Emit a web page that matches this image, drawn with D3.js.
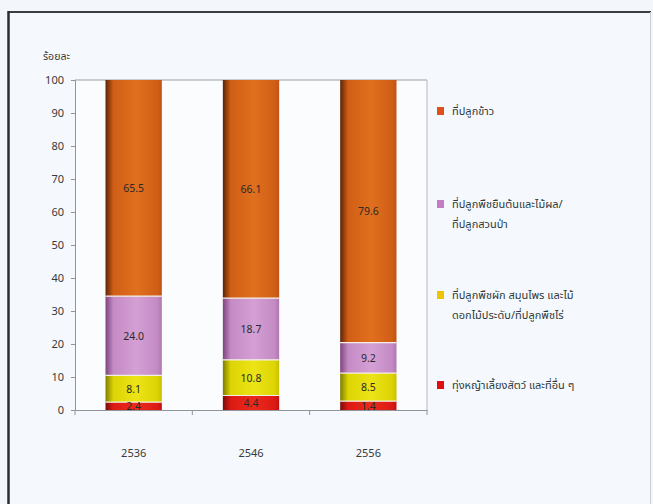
<!DOCTYPE html>
<html><head><meta charset="utf-8">
<script src="https://cdn.jsdelivr.net/npm/d3@7"></script>
<style>
html,body{margin:0;padding:0;background:#f3f6fa;}
svg{display:block;}
text{font-family:"Noto Sans Thai","Noto Sans","DejaVu Sans",sans-serif;}
</style></head>
<body>
<svg id="c" width="653" height="504"></svg>
<script>
// ---- data ----
const years = ["2536", "2546", "2556"];
const seriesNames = [
  "ทุ่งหญ้าเลี้ยงสัตว์ และที่อื่น ๆ",
  "ที่ปลูกพืชผัก สมุนไพร และไม้ดอกไม้ประดับ/ที่ปลูกพืชไร่",
  "ที่ปลูกพืชยืนต้นและไม้ผล/ที่ปลูกสวนป่า",
  "ที่ปลูกข้าว"
];
const pasture = [2.4, 4.4, 2.7];
const vegetables = [8.1, 10.8, 8.5];
const perennial = [24.0, 18.7, 9.2];
const rice = [65.5, 66.1, 79.6];
const pastureLabels = ["2.4", "4.4", "1.4"];
const vegetablesLabels = ["8.1", "10.8", "8.5"];
const perennialLabels = ["24.0", "18.7", "9.2"];
const riceLabels = ["65.5", "66.1", "79.6"];
const yTicks = [0, 10, 20, 30, 40, 50, 60, 70, 80, 90, 100];
const yTitle = "ร้อยละ";
const legendLines = [
  ["ที่ปลูกข้าว"],
  ["ที่ปลูกพืชยืนต้นและไม้ผล/", "ที่ปลูกสวนป่า"],
  ["ที่ปลูกพืชผัก สมุนไพร และไม้", "ดอกไม้ประดับ/ที่ปลูกพืชไร่"],
  ["ทุ่งหญ้าเลี้ยงสัตว์ และที่อื่น ๆ"]
];

// ---- build ----
const seriesValues = [pasture, vegetables, perennial, rice];
const seriesLabels = [pastureLabels, vegetablesLabels, perennialLabels, riceLabels];
const keys = ["pasture", "vegetables", "perennial", "rice"];
const table = years.map((y, i) => {
  const o = {year: y};
  keys.forEach((k, j) => { o[k] = seriesValues[j][i]; });
  return o;
});
const stacked = d3.stack().keys(keys)(table);

const svg = d3.select("#c");
const W = 653, H = 504;
const plot = {left: 75, right: 427, top: 80, bottom: 410};

// frame
svg.append("rect").attr("x", 0).attr("y", 0).attr("width", W).attr("height", H).attr("fill", "#f3f6fa");
svg.append("rect").attr("x", 9).attr("y", 12).attr("width", 641).attr("height", 500)
  .attr("fill", "#f5f8fc").attr("stroke", "none");
svg.append("line").attr("x1", 8).attr("x2", 651).attr("y1", 12).attr("y2", 12).attr("stroke", "#3a3f44").attr("stroke-width", 2.2);
svg.append("line").attr("x1", 8.5).attr("x2", 8.5).attr("y1", 11).attr("y2", H).attr("stroke", "#2a2e32").attr("stroke-width", 2.5);
svg.append("line").attr("x1", 650.5).attr("x2", 650.5).attr("y1", 12).attr("y2", H).attr("stroke", "#c9ced4").attr("stroke-width", 1);

const x = d3.scaleBand().domain(years).range([plot.left, plot.right]).paddingInner(0.52).paddingOuter(0.26);
const y = d3.scaleLinear().domain([0, 100]).range([plot.bottom, plot.top]);

// plot area
svg.append("rect").attr("x", plot.left).attr("y", plot.top).attr("width", plot.right - plot.left)
  .attr("height", plot.bottom - plot.top).attr("fill", "#fafcfe");
svg.append("line").attr("x1", plot.left).attr("x2", plot.right).attr("y1", y(100)).attr("y2", y(100))
  .attr("stroke", "#9aa0a6").attr("stroke-width", 1);
svg.append("line").attr("x1", plot.right).attr("x2", plot.right).attr("y1", y(100)).attr("y2", y(0))
  .attr("stroke", "#b5bac0").attr("stroke-width", 1);

// gradients (cylinder look)
const palettes = {
  pasture:    {edge: "#7a0a0a", mid: "#dc1a14", hi: "#ea2a1c", right: "#c01010"},
  vegetables: {edge: "#7e7e00", mid: "#dcd404", hi: "#ece416", right: "#c8c000"},
  perennial:  {edge: "#7e447e", mid: "#c48ac4", hi: "#d4a0d4", right: "#b076b0"},
  rice:       {edge: "#5e2406", mid: "#d05e16", hi: "#e0701e", right: "#c05414"}
};
const defs = svg.append("defs");
keys.forEach(k => {
  const p = palettes[k];
  const g = defs.append("linearGradient").attr("id", "g-" + k).attr("x1", "0").attr("x2", "1").attr("y1", "0").attr("y2", "0");
  g.append("stop").attr("offset", "0").attr("stop-color", p.edge);
  g.append("stop").attr("offset", "0.14").attr("stop-color", p.mid);
  g.append("stop").attr("offset", "0.55").attr("stop-color", p.hi);
  g.append("stop").attr("offset", "0.92").attr("stop-color", p.mid);
  g.append("stop").attr("offset", "1").attr("stop-color", p.right);
});

// bars
const layers = svg.append("g").selectAll("g").data(stacked).join("g")
  .attr("fill", d => "url(#g-" + d.key + ")");
layers.selectAll("rect").data(d => d).join("rect")
  .attr("x", d => x(d.data.year))
  .attr("width", x.bandwidth())
  .attr("y", d => y(d[1]))
  .attr("height", d => y(d[0]) - y(d[1]));
// separators
svg.append("g").selectAll("line").data(stacked.slice(0, 3).flatMap(s => s.map(d => ({year: d.data.year, v: d[1]}))))
  .join("line")
  .attr("x1", d => x(d.year)).attr("x2", d => x(d.year) + x.bandwidth())
  .attr("y1", d => y(d.v)).attr("y2", d => y(d.v))
  .attr("stroke", "#f4eee8").attr("stroke-width", 1.2);

// data labels
stacked.forEach((s, si) => {
  svg.append("g").selectAll("text").data(s).join("text")
    .attr("x", d => x(d.data.year) + x.bandwidth() / 2)
    .attr("y", d => (y(d[0]) + y(d[1])) / 2 + 4)
    .attr("text-anchor", "middle")
    .attr("font-size", 10.5)
    .attr("fill", "#2a2a2a")
    .text((d, i) => seriesLabels[si][i]);
});

// axes
const yAxis = svg.append("g").attr("transform", `translate(${plot.left},0)`)
  .call(d3.axisLeft(y).tickValues(yTicks).tickSize(4).tickPadding(7));
yAxis.select(".domain").attr("stroke", "#8f959b");
yAxis.selectAll(".tick line").attr("stroke", "#8f959b");
yAxis.selectAll("text").attr("font-size", 11).attr("fill", "#3a3a3a");

const xAxis = svg.append("g").attr("transform", `translate(0,${plot.bottom})`)
  .call(d3.axisBottom(x).tickSize(0).tickPadding(39));
xAxis.select(".domain").attr("stroke", "#8f959b");
xAxis.selectAll("text").attr("font-size", 11).attr("fill", "#3a3a3a");
// category separator ticks
const bounds = [plot.left, ...years.slice(1).map(yv => x(yv) - x.step() * x.paddingInner() / 2), plot.right];
svg.append("g").selectAll("line").data(bounds).join("line")
  .attr("x1", d => d).attr("x2", d => d).attr("y1", plot.bottom).attr("y2", plot.bottom + 5)
  .attr("stroke", "#8f959b");

svg.append("text").attr("x", 43).attr("y", 60).attr("font-size", 10.5).attr("fill", "#3a3a3a").text(yTitle);

// legend
const legendColors = ["#e0501a", "#c47cc4", "#f0c400", "#e01010"];
const legendY = [115, 208, 299, 389];
const lg = svg.append("g");
legendLines.forEach((lines, i) => {
  lg.append("rect").attr("x", 437).attr("y", legendY[i] - 8).attr("width", 7).attr("height", 8).attr("fill", legendColors[i]);
  lines.forEach((t, j) => {
    lg.append("text").attr("x", 452).attr("y", legendY[i] + j * 20).attr("font-size", 11).attr("fill", "#2f3a3a").text(t);
  });
});
</script>
</body></html>
